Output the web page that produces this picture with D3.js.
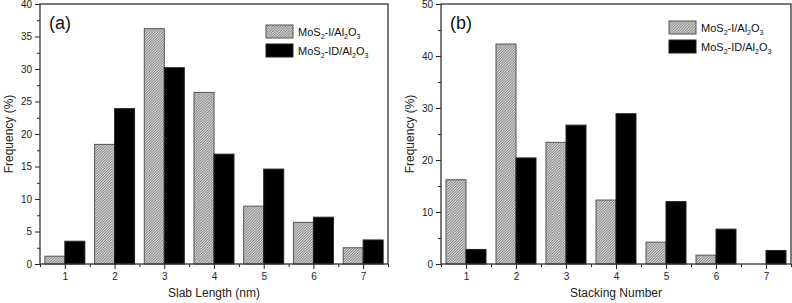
<!DOCTYPE html>
<html>
<head>
<meta charset="utf-8">
<script src="https://cdn.jsdelivr.net/npm/d3@7"></script>
<style>
  body { margin: 0; background: #fff; }
  svg { display: block; font-family: Arial, "Liberation Sans", sans-serif; }
  .tick text { font-size: 10px; fill: #222; }
</style>
</head>
<body>
<div id="chart"></div>
<script>
// categories (x positions)
var categories = [1, 2, 3, 4, 5, 6, 7];

// panel (a) slab length distribution
var slabI = [1.2, 18.4, 36.2, 26.4, 8.9, 6.4, 2.5];
var slabID = [3.5, 23.9, 30.2, 16.9, 14.6, 7.2, 3.7];
var slabYTicks = [0, 5, 10, 15, 20, 25, 30, 35, 40];

// panel (b) stacking number distribution
var stackI = [16.2, 42.3, 23.4, 12.3, 4.2, 1.7, 0];
var stackID = [2.8, 20.4, 26.7, 28.9, 12.0, 6.7, 2.6];
var stackYTicks = [0, 10, 20, 30, 40, 50];

var svg = d3
  .select("#chart")
  .append("svg")
  .attr("width", 792)
  .attr("height", 303);

// hatch pattern for MoS2-I/Al2O3
var defs = svg.append("defs");
defs
  .append("pattern")
  .attr("id", "hatch")
  .attr("patternUnits", "userSpaceOnUse")
  .attr("width", 2.6)
  .attr("height", 2.6)
  .call(function (p) {
    p.append("rect").attr("width", 2.6).attr("height", 2.6).attr("fill", "#f4f4f4");
    p.append("path")
      .attr("d", "M-1,1 l2,-2 M0,2.6 l2.6,-2.6 M1.6,3.6 l2,-2")
      .attr("stroke", "#6a6a6a")
      .attr("stroke-width", 0.9);
  });

function drawPanel(opt) {
  var g = svg.append("g");
  var x = d3.scaleLinear().domain([0.5, 7.5]).range([opt.left, opt.right]);
  var y = d3.scaleLinear().domain([0, opt.yMax]).range([opt.bottom, opt.top]);
  var barW = 20;

  // bars
  g.selectAll("rect.hatched")
    .data(categories)
    .join("rect")
    .attr("class", "hatched")
    .attr("x", (d) => x(d) - barW)
    .attr("y", (d, i) => y(opt.seriesI[i]))
    .attr("width", barW)
    .attr("height", (d, i) => y(0) - y(opt.seriesI[i]))
    .attr("fill", "url(#hatch)")
    .attr("stroke", (d, i) => (opt.seriesI[i] > 0 ? "#555" : "none"))
    .attr("stroke-width", 1);

  g.selectAll("rect.solid")
    .data(categories)
    .join("rect")
    .attr("class", "solid")
    .attr("x", (d) => x(d))
    .attr("y", (d, i) => y(opt.seriesID[i]))
    .attr("width", barW)
    .attr("height", (d, i) => y(0) - y(opt.seriesID[i]))
    .attr("fill", "#000")
    .attr("stroke", "#222")
    .attr("stroke-width", 1);

  // minor ticks
  var minorX = d3.range(0.5, 7.6, 1);
  g.append("g")
    .attr("transform", "translate(0," + opt.bottom + ")")
    .call(d3.axisBottom(x).tickValues(minorX).tickSize(3).tickFormat(""))
    .call((a) => a.select(".domain").remove());

  var step = opt.yTicks[1] - opt.yTicks[0];
  var minorY = opt.yTicks.slice(0, -1).map((v) => v + step / 2);
  g.append("g")
    .attr("transform", "translate(" + opt.left + ",0)")
    .call(d3.axisLeft(y).tickValues(minorY).tickSize(3).tickFormat(""))
    .call((a) => a.select(".domain").remove());

  // major axes
  g.append("g")
    .attr("transform", "translate(0," + opt.bottom + ")")
    .call(
      d3.axisBottom(x).tickValues(categories).tickFormat(d3.format("d")).tickSize(5).tickPadding(4)
    )
    .call((a) => a.select(".domain").remove());

  g.append("g")
    .attr("transform", "translate(" + opt.left + ",0)")
    .call(d3.axisLeft(y).tickValues(opt.yTicks).tickFormat(d3.format("d")).tickSize(5).tickPadding(3))
    .call((a) => a.select(".domain").remove());

  g.selectAll(".tick line").attr("stroke", "#222");

  // frame
  g.append("rect")
    .attr("x", opt.left)
    .attr("y", opt.top)
    .attr("width", opt.right - opt.left)
    .attr("height", opt.bottom - opt.top)
    .attr("fill", "none")
    .attr("stroke", "#333")
    .attr("stroke-width", 1.3);

  // panel letter
  g.append("text")
    .attr("x", opt.left + 9)
    .attr("y", opt.top + 25)
    .attr("font-size", 18)
    .attr("fill", "#111")
    .text(opt.letter);

  // axis labels
  g.append("text")
    .attr("x", (opt.left + opt.right) / 2)
    .attr("y", 297)
    .attr("text-anchor", "middle")
    .attr("font-size", 12)
    .attr("fill", "#222")
    .text(opt.xLabel);

  g.append("text")
    .attr("transform", "translate(" + (opt.left - 27) + "," + (opt.top + opt.bottom) / 2 + ") rotate(-90)")
    .attr("text-anchor", "middle")
    .attr("font-size", 12)
    .attr("fill", "#222")
    .text("Frequency (%)");

  // legend
  var lg = g.append("g").attr("transform", "translate(" + opt.legendX + "," + opt.legendY + ")");
  var entries = [
    { fill: "url(#hatch)", stroke: "#555", label: "I" },
    { fill: "#000", stroke: "#222", label: "ID" }
  ];
  entries.forEach(function (e, i) {
    lg.append("rect")
      .attr("x", 0)
      .attr("y", i * 19)
      .attr("width", 27)
      .attr("height", 13)
      .attr("fill", e.fill)
      .attr("stroke", e.stroke);
    var t = lg.append("text")
      .attr("x", 32)
      .attr("y", i * 19 + 11)
      .attr("font-size", 11)
      .attr("fill", "#111");
    t.append("tspan").text("MoS");
    t.append("tspan").attr("font-size", 7).attr("dy", 3).text("2");
    t.append("tspan").attr("dy", -3).text("-" + e.label + "/Al");
    t.append("tspan").attr("font-size", 7).attr("dy", 3).text("2");
    t.append("tspan").attr("dy", -3).text("O");
    t.append("tspan").attr("font-size", 7).attr("dy", 3).text("3");
  });
}

drawPanel({
  left: 40, right: 388, top: 4, bottom: 264,
  yMax: 40, yTicks: slabYTicks,
  seriesI: slabI, seriesID: slabID,
  letter: "(a)", xLabel: "Slab Length (nm)",
  legendX: 266, legendY: 25
});

drawPanel({
  left: 441, right: 791, top: 4, bottom: 264,
  yMax: 50, yTicks: stackYTicks,
  seriesI: stackI, seriesID: stackID,
  letter: "(b)", xLabel: "Stacking Number",
  legendX: 669, legendY: 21
});
</script>
</body>
</html>
